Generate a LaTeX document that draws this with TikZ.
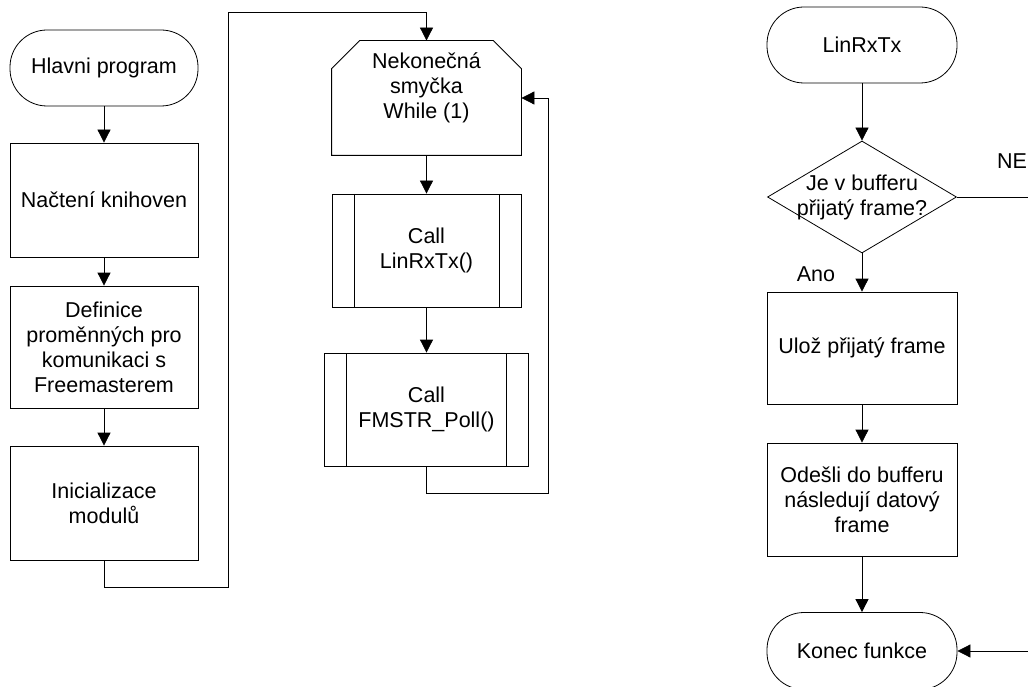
\documentclass[tikz,border=0pt]{standalone}
\usepackage{fontspec}
\setmainfont{Liberation Sans}
\usetikzlibrary{arrows.meta,shapes.geometric,calc}
\begin{document}
\begin{tikzpicture}[x=1pt,y=-1pt,
  font=\fontsize{21.5}{25}\selectfont,
  line width=0.8pt,
  arr/.style={-{Triangle[length=13pt,width=13pt]}},
  proc/.style={draw, rectangle, inner sep=0pt, align=center},
  term/.style={draw, rectangle, rounded corners=37pt, inner sep=0pt, align=center},
  subr/.style={proc, path picture={
      \draw ([xshift=22pt]path picture bounding box.north west) -- ([xshift=22pt]path picture bounding box.south west);
      \draw ([xshift=-22pt]path picture bounding box.north east) -- ([xshift=-22pt]path picture bounding box.south east);}},
  lbl/.style={inner sep=0pt, align=center}]
\useasboundingbox (0,0) rectangle (1028,687);
\clip (0,0) rectangle (1028,687);

% left column
\node[term, minimum width=188pt, minimum height=76pt] (hp) at (104,68) {Hlavni program};
\node[proc, minimum width=188pt, minimum height=114pt] (nk) at (104,200) {Načtení knihoven};
\node[proc, minimum width=188pt, minimum height=122pt] (def) at (104,347) {Definice\\proměnných pro\\komunikaci s\\Freemasterem};
\node[proc, minimum width=188pt, minimum height=114pt] (ini) at (104,503) {Inicializace\\modulů};

% middle column
\node[minimum width=189pt, minimum height=114pt, inner sep=0pt] (loop) at (426.5,98) {};
\draw (loop.south west) -- ([yshift=-28pt]loop.north west) -- ([xshift=28pt]loop.north west)
  -- ([xshift=-28pt]loop.north east) -- ([yshift=-28pt]loop.north east) -- (loop.south east) -- cycle;
\node[lbl] (looptxt) at (426.5,88) {Nekonečná\\smyčka\\While (1)};
\node[subr, minimum width=189pt, minimum height=113pt] (c1) at (426.5,250.5) {Call\\LinRxTx()};
\node[subr, minimum width=204pt, minimum height=113pt] (c2) at (426.5,409.5) {Call\\FMSTR\_Poll()};

% right column
\node[term, minimum width=190pt, minimum height=76pt] (lin) at (862,45) {LinRxTx};
\node[draw, diamond, minimum width=189pt, minimum height=112pt, inner sep=0pt] (dia) at (862,197) {};
\node[lbl] (diatxt) at (862,197) {Je v bufferu\\přijatý frame?};
\node[proc, minimum width=190pt, minimum height=112pt] (ulo) at (862,348) {Ulož přijatý frame};
\node[proc, minimum width=190pt, minimum height=113pt] (ode) at (862,499.5) {Odešli do bufferu\\následují datový\\frame};
\node[term, minimum width=190pt, minimum height=77pt] (kon) at (862,651) {Konec funkce};
\node[lbl] (ne) at (1012,161) {NE};
\node[lbl] (ano) at (816,274) {Ano};

\coordinate (k1) at (228,587);
\coordinate (k2) at (228,12);
\coordinate (k3) at (548,493);
\coordinate (neend) at (1040,197);
\coordinate (konin) at (1040,651);

% connectors
\draw[arr] (hp.south) -- (nk.north);
\draw[arr] (nk.south) -- (def.north);
\draw[arr] (def.south) -- (ini.north);
\draw[arr] (ini.south) |- (k1) -- (k2) -| (loop.north);
\draw[arr] (loop.south) -- (c1.north);
\draw[arr] (c1.south) -- (c2.north);
\draw[arr] (c2.south) |- (k3) |- (loop.east);

\draw[arr] (lin.south) -- (dia.north);
\draw[arr] (dia.south) -- (ulo.north);
\draw[arr] (ulo.south) -- (ode.north);
\draw[arr] (ode.south) -- (kon.north);
\draw (dia.east) -- (neend);
\draw[arr] (konin) -- (kon.east);
\end{tikzpicture}
\end{document}
